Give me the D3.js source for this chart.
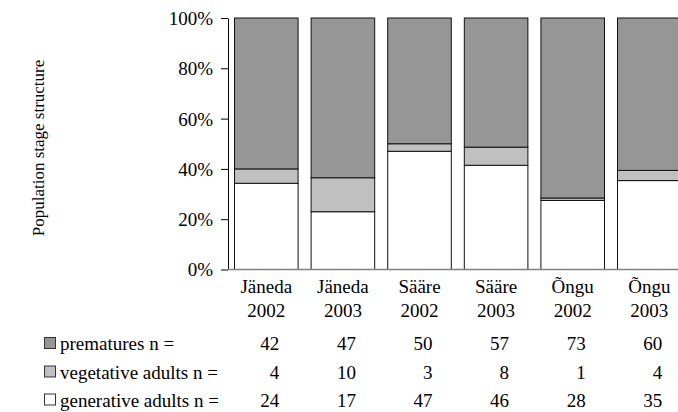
<!DOCTYPE html>
<html><head><meta charset="utf-8">
<script src="https://cdn.jsdelivr.net/npm/d3@7"></script>
<style>body{margin:0;background:#fff}svg{display:block}text{font-family:"Liberation Serif","Times New Roman",serif;fill:#000}</style>
</head><body>
<svg id="c" width="678" height="412"></svg>
<script>
const sites = ["Jäneda","Jäneda","Sääre","Sääre","Õngu","Õngu"];
const years = ["2002","2003","2002","2003","2002","2003"];
const premature = [42,47,50,57,73,60];
const vegetative = [4,10,3,8,1,4];
const generative = [24,17,47,46,28,35];
const rowLabels = ["prematures n =","vegetative adults n =","generative adults n ="];
const yTicks = [0,0.2,0.4,0.6,0.8,1.0];

const FS = 19;
const svg = d3.select("#c");
const keys = ["generative","vegetative","premature"];
const colors = {generative:"#ffffff", vegetative:"#c0c0c0", premature:"#969696"};
const rows = sites.map((s,i)=>({id:i, generative:generative[i], vegetative:vegetative[i], premature:premature[i]}));
const stack = d3.stack().keys(keys).offset(d3.stackOffsetExpand)(rows);

const x = d3.scaleBand().domain(d3.range(sites.length)).range([228,687.6]).paddingInner(0.17).paddingOuter(0.085);
const y = d3.scaleLinear().domain([0,1]).range([269.5,18]);

// bars
stack.forEach(layer=>{
  svg.append("g").selectAll("rect").data(layer).join("rect")
    .attr("x",(d,i)=>x(i)).attr("width",x.bandwidth())
    .attr("y",d=>y(d[1])).attr("height",d=>y(d[0])-y(d[1]))
    .attr("fill",colors[layer.key]).attr("stroke","#111").attr("stroke-width",1);
});

// y axis
const ya = svg.append("g").attr("transform","translate(228,0)")
  .call(d3.axisLeft(y).tickValues(yTicks).tickFormat(d3.format(".0%")).tickSize(7).tickSizeOuter(0));
ya.attr("font-family",null).attr("font-size",null);
ya.select(".domain").attr("stroke","#000");
ya.selectAll(".tick line").attr("stroke","#000");
ya.selectAll("text").attr("font-size",FS).attr("x",-15).attr("dy","0.34em");

// x axis baseline
svg.append("line").attr("x1",228).attr("x2",678).attr("y1",y(0)).attr("y2",y(0)).attr("stroke","#808080").attr("stroke-width",1.5);

// category labels
const xl = svg.append("g");
sites.forEach((s,i)=>{
  const cx = x(i)+x.bandwidth()/2;
  xl.append("text").attr("x",cx).attr("y",293).attr("text-anchor","middle").attr("font-size",FS).text(s);
  xl.append("text").attr("x",cx).attr("y",317).attr("text-anchor","middle").attr("font-size",FS).text(years[i]);
});

// y label
svg.append("text").attr("transform","translate(44,148) rotate(-90)").attr("text-anchor","middle").attr("font-size",17).text("Population stage structure");

// table legend
const tbl = [
  {key:"premature", label:rowLabels[0], vals:premature, y:350},
  {key:"vegetative", label:rowLabels[1], vals:vegetative, y:378.5},
  {key:"generative", label:rowLabels[2], vals:generative, y:406.5}
];
tbl.forEach(r=>{
  svg.append("rect").attr("x",44.5).attr("y",r.y-12.5).attr("width",11).attr("height",11)
    .attr("fill",colors[r.key]).attr("stroke","#333").attr("stroke-width",1);
  svg.append("text").attr("x",60).attr("y",r.y).attr("font-size",FS).text(r.label);
  r.vals.forEach((v,i)=>{
    svg.append("text").attr("x",x(i)+x.bandwidth()/2+13).attr("y",r.y).attr("text-anchor","end").attr("font-size",FS).text(v);
  });
});
</script>
</body></html>
